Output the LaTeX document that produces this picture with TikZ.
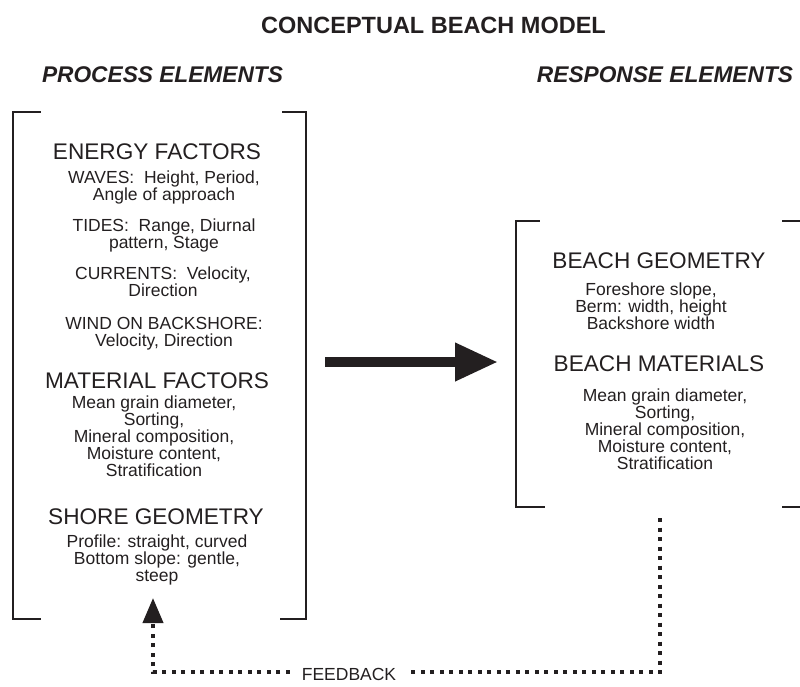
\documentclass[tikz,border=0pt]{standalone}
\usepackage{fontspec}
\setmainfont{Liberation Sans}
\usetikzlibrary{arrows.meta}
\definecolor{ink}{HTML}{231F20}
\begin{document}
\begin{tikzpicture}[x=1pt,y=-1pt,
  titlefont/.style={font=\fontsize{23.5}{25}\selectfont\bfseries, text=ink, inner sep=0pt, anchor=base},
  colhead/.style={font=\fontsize{22.7}{24}\selectfont\bfseries\itshape, text=ink, inner sep=0pt, anchor=base},
  head/.style={font=\fontsize{22.6}{24}\selectfont, text=ink, inner sep=0pt, anchor=base},
  body/.style={font=\fontsize{17.5}{17}\selectfont, text=ink, inner sep=0pt, anchor=base, align=center},
  bracket/.style={draw=ink, line width=1.6pt},
  fbline/.style={draw=ink, line width=4pt, dash pattern=on 4pt off 5.5pt},
  box/.style={draw=none, inner sep=0pt}]
\useasboundingbox (0,0) rectangle (800,686);

% titles
\node[titlefont] (title) at (433.5,33) {CONCEPTUAL BEACH MODEL};
\node[colhead] (proc) at (162.5,82) {PROCESS ELEMENTS};
\node[colhead] (resp) at (665,82) {RESPONSE ELEMENTS};

% invisible boxes
\node[box, minimum width=293pt, minimum height=507pt] (lbox) at (159.5,365.5) {};
\node[box, minimum width=300pt, minimum height=286pt] (rbox) at (666,364) {};

% left bracket
\draw[bracket] ([xshift=28pt]lbox.north west) -- (lbox.north west) -- (lbox.south west) -- ([xshift=28pt]lbox.south west);
\draw[bracket] ([xshift=-24pt]lbox.north east) -- (lbox.north east) -- (lbox.south east) -- ([xshift=-26pt]lbox.south east);
% right bracket
\draw[bracket] ([xshift=24pt]rbox.north west) -- (rbox.north west) -- (rbox.south west) -- ([xshift=29pt]rbox.south west);
\draw[bracket] (782,221) -- (801,221);
\draw[bracket] (782,507) -- (801,507);

% left texts (multi-line nodes: base = baseline of last line)
\node[head] (ef) at (157,159) {ENERGY FACTORS};
\node[body] (waves) at (164,200) {WAVES:\ \ Height, Period,\\Angle of approach};
\node[body] (tides) at (164,248) {TIDES:\ \ Range, Diurnal\\pattern, Stage};
\node[body] (curr) at (163,296) {CURRENTS:\ \ Velocity,\\Direction};
\node[body] (wind) at (164,346) {WIND ON BACKSHORE:\\Velocity, Direction};
\node[head] (mf) at (157,388) {MATERIAL FACTORS};
\node[body] (mat) at (154,476) {Mean grain diameter,\\Sorting,\\Mineral composition,\\Moisture content,\\Stratification};
\node[head] (sg) at (156,524) {SHORE GEOMETRY};
\node[body] (shore) at (157,581) {Profile: straight, curved\\Bottom slope: gentle,\\steep};

% right texts
\node[head] (bg) at (659,268) {BEACH GEOMETRY};
\node[body] (geo) at (651,329) {Foreshore slope,\\Berm: width, height\\Backshore width};
\node[head] (bm) at (659,371) {BEACH MATERIALS};
\node[body] (bmat) at (665,469) {Mean grain diameter,\\Sorting,\\Mineral composition,\\Moisture content,\\Stratification};

% main arrow
\coordinate (a1) at (325,362);
\coordinate (a2) at (498,362);
\draw[draw=ink, line width=10pt, -{Triangle[width=36pt,length=43pt]}] (a1) -- (a2);

% feedback
\node[body, fill=white, inner xsep=12pt, inner ysep=2pt] (fb) at (349,680) {FEEDBACK};
\coordinate (fbtop) at (660,518);
\coordinate (fbtip) at (153,598);
\draw[fbline] (fbtop) -- (660,672) -- (fb.east |- 0,672);
\draw[fbline, -{Triangle[width=20pt,length=25pt]}] (fb.west |- 0,672) -- (153,672) -- (fbtip);
\end{tikzpicture}
\end{document}
